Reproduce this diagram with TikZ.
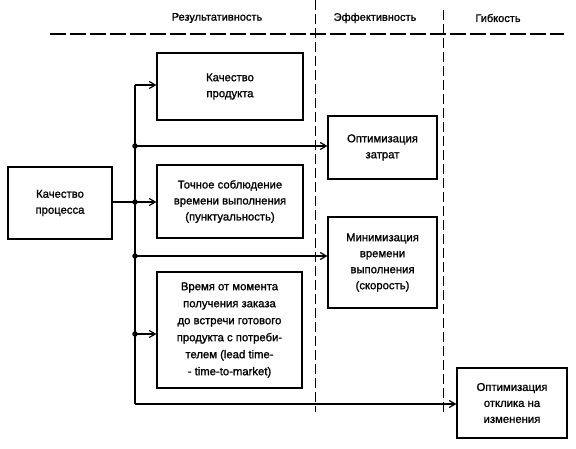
\documentclass[tikz,border=0pt]{standalone}
\usepackage{fontspec}
\setmainfont{Liberation Sans}[BoldFont={Liberation Sans},BoldFeatures={FakeBold=1.2}]
\usetikzlibrary{arrows.meta}
\begin{document}
\begin{tikzpicture}[x=1pt,y=-1pt,
  box/.style={draw,line width=1.2pt,align=center,inner sep=0pt,font=\fontsize{11.3}{16}\selectfont\bfseries},
  conn/.style={line width=1.6pt},
  arr/.style={conn,-{Straight Barb[length=6pt,width=7pt,line width=1.2pt]}},
  dot/.style={circle,fill,inner sep=0pt,minimum size=5.5pt},
  hdr/.style={font=\fontsize{11}{12}\selectfont\bfseries},
  sep/.style={line width=0.9pt,dash pattern=on 10pt off 4pt}]
\useasboundingbox (0,0) rectangle (576,449);
% header
\node[hdr] (h1) at (217,18) {Результативность};
\node[hdr] (h2) at (375,18) {Эффективность};
\node[hdr] (h3) at (498,18) {Гибкость};
\coordinate (hl) at (50,34);
\coordinate (hr) at (564,34);
\draw[line width=1.1pt,dash pattern=on 16pt off 4pt] (hl) -- (hr);
\coordinate (v1t) at (315,0);
\coordinate (v1b) at (315,412);
\coordinate (v2t) at (443,10);
\coordinate (v2b) at (443,412);
\draw[sep] (v1t) -- (v1b);
\draw[sep] (v2t) -- (v2b);
% boxes
\node[box,minimum width=104pt,minimum height=72pt] (proc) at (60,203) {Качество\\процесса};
\node[box,minimum width=146pt,minimum height=67pt] (prod) at (230,86.5) {Качество\\продукта};
\node[box,minimum width=146pt,minimum height=73pt] (punct) at (230,201.5) {Точное соблюдение\\времени выполнения\\(пунктуальность)};
\node[box,minimum width=145pt,minimum height=116pt,font=\fontsize{11.3}{17}\selectfont\bfseries] (lead) at (229.5,330) {Время от момента\\получения заказа\\до встречи готового\\продукта с потреби-\\телем (lead time-\\- time-to-market)};
\node[box,minimum width=109pt,minimum height=63pt] (cost) at (382.5,147.5) {Оптимизация\\затрат};
\node[box,minimum width=109pt,minimum height=91pt] (speed) at (382.5,262.5) {Минимизация\\времени\\выполнения\\(скорость)};
\node[box,minimum width=110pt,minimum height=70pt] (resp) at (512,403) {Оптимизация\\отклика на\\изменения};
% trunk
\coordinate (t0) at (135,85);
\coordinate (t1) at (135,146);
\coordinate (t2) at (135,202);
\coordinate (t3) at (135,256);
\coordinate (t4) at (135,334);
\coordinate (t5) at (135,404);
\draw[conn] (t0) -- (t5);
\draw[conn] (proc.east |- t2) -- (t2);
\draw[arr] (t0) -- (t0 -| prod.west);
\draw[arr] (t1) -- (t1 -| cost.west);
\draw[arr] (t2) -- (t2 -| punct.west);
\draw[arr] (t3) -- (t3 -| speed.west);
\draw[arr] (t4) -- (t4 -| lead.west);
\draw[arr] (t5) -- (t5 -| resp.west);
\node[dot] (d1) at (t1) {};
\node[dot] (d2) at (t2) {};
\node[dot] (d3) at (t3) {};
\node[dot] (d4) at (t4) {};
\end{tikzpicture}
\end{document}
